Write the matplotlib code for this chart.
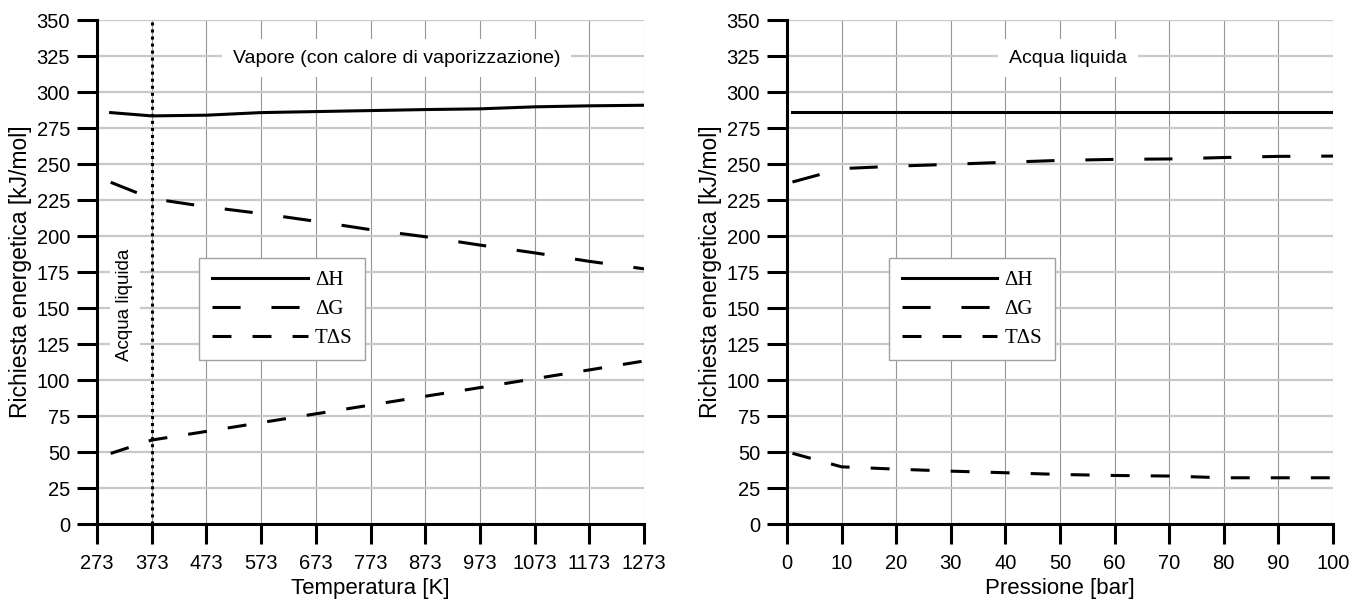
import matplotlib
matplotlib.use("Agg")
import matplotlib.pyplot as plt

plt.rcParams["font.family"] = ["Liberation Sans", "DejaVu Sans"]

# left: temperature sweep
temp_K = [298, 373, 473, 573, 673, 773, 873, 973, 1073, 1173, 1273]
dH_temp = [285.7, 283.4, 283.9, 285.7, 286.4, 287.1, 287.8, 288.3, 289.7, 290.4, 290.8]
dG_temp = [237.3, 226.0, 220.3, 215.6, 210.2, 204.4, 199.5, 193.7, 188.3, 182.4, 177.2]
TdS_temp = [49.0, 58.3, 64.3, 70.4, 76.5, 82.6, 88.7, 94.7, 100.9, 107.0, 113.2]
temp_ticks = [273, 373, 473, 573, 673, 773, 873, 973, 1073, 1173, 1273]
boiling_K = 373

# right: pressure sweep
pressure_bar = [1, 10, 20, 30, 40, 50, 60, 70, 80, 90, 100]
dH_press = [285.8, 285.8, 285.8, 285.8, 285.8, 285.8, 285.8, 285.8, 285.8, 285.8, 285.8]
dG_press = [237.5, 246.8, 248.5, 249.8, 251.2, 252.5, 253.2, 253.5, 254.5, 255.3, 255.5]
TdS_press = [49.1, 39.7, 38.1, 36.7, 35.6, 34.4, 33.7, 33.3, 32.1, 32.1, 32.1]
press_ticks = [0, 10, 20, 30, 40, 50, 60, 70, 80, 90, 100]

energy_ticks = [0, 25, 50, 75, 100, 125, 150, 175, 200, 225, 250, 275, 300, 325, 350]
series_labels = ["\u0394H", "\u0394G", "T\u0394S"]

LW = 2.2
dash_G = (9.2, 10.1)
dash_S = (6.2, 6.9)

fig = plt.figure(figsize=(13.49, 5.99), dpi=100)
ax1 = fig.add_axes([97 / 1349, 1 - 524 / 599, 547 / 1349, 504 / 599])
ax2 = fig.add_axes([787 / 1349, 1 - 524 / 599, 546 / 1349, 504 / 599])


def style_axes(ax, xticks, xlabel):
    ax.set_ylim(0, 350)
    ax.set_xlim(xticks[0], xticks[-1])
    ax.set_xticks(xticks)
    ax.set_yticks(energy_ticks)
    ax.grid(axis="y", color="#c8c8c8", lw=1.6, zorder=0)
    ax.grid(axis="x", color="#969696", lw=0.8, zorder=0)
    ax.set_axisbelow(True)
    for s in ["top", "right"]:
        ax.spines[s].set_visible(False)
    for s in ["left", "bottom"]:
        ax.spines[s].set_linewidth(2.2)
    ax.tick_params(axis="both", direction="out", length=14.4, width=2.2,
                   labelsize=14.5)
    ax.tick_params(axis="x", pad=7)
    ax.tick_params(axis="y", pad=5)
    ax.set_xlabel(xlabel, fontsize=16, labelpad=4)
    ax.set_ylabel("Richiesta energetica [kJ/mol]", fontsize=16.5, labelpad=3)


def draw_series(ax, x, dH, dG, TdS):
    ax.plot(x, dH, color="black", lw=LW, label=series_labels[0], zorder=4)
    ax.plot(x, dG, color="black", lw=LW, dashes=dash_G, label=series_labels[1], zorder=4)
    ax.plot(x, TdS, color="black", lw=LW, dashes=dash_S, label=series_labels[2], zorder=4)
    leg = ax.legend(loc="upper left", bbox_to_anchor=(0.187, 0.528), borderaxespad=0,
                    prop={"family": ["Liberation Serif", "DejaVu Serif"], "size": 15},
                    handlelength=4.6, handletextpad=0.35, labelspacing=0.45,
                    borderpad=0.6, fancybox=False, framealpha=1)
    leg.get_frame().set_edgecolor("#a0a0a0")
    leg.get_frame().set_linewidth(1.0)
    leg.set_zorder(5)


box = dict(facecolor="white", edgecolor="none", boxstyle="square,pad=0.55")

# left plot
style_axes(ax1, temp_ticks, "Temperatura [K]")
ax1.axvline(boiling_K, color="black", lw=2.2, ls=(0, (1, 1.3)), zorder=4)
draw_series(ax1, temp_K, dH_temp, dG_temp, TdS_temp)
ax1.text(821, 323.6, "Vapore (con calore di vaporizzazione)", fontsize=14,
         ha="center", va="center", bbox=box, zorder=3)
ax1.text(324, 152, "Acqua liquida", fontsize=13.5, rotation=90, ha="center",
         va="center", bbox=dict(facecolor="white", edgecolor="none",
                                boxstyle="square,pad=0.35"), zorder=3)

# right plot
style_axes(ax2, press_ticks, "Pressione [bar]")
draw_series(ax2, pressure_bar, dH_press, dG_press, TdS_press)
ax2.text(51.5, 323.6, "Acqua liquida", fontsize=14, ha="center", va="center",
         bbox=box, zorder=3)

fig.savefig("out.png", dpi=100)
